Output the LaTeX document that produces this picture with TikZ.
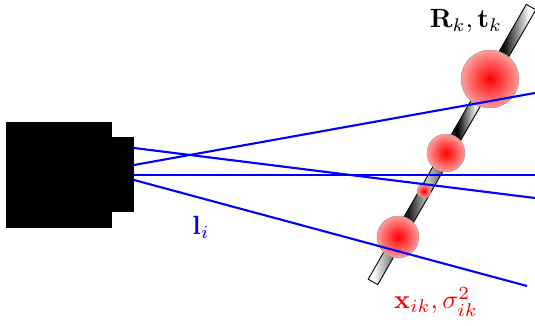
\documentclass[tikz,border=0pt]{standalone}
\usepackage{amsmath,amssymb}
\usetikzlibrary{calc,positioning}
\definecolor{raylineblue}{HTML}{0000FF}
\definecolor{pointred}{HTML}{FF0000}
\definecolor{pointpink}{HTML}{FF9C9C}
\pgfdeclarehorizontalshading{barshade}{100bp}{
  color(0bp)=(white); color(26.5bp)=(white); color(32.9bp)=(black!60);
  color(36.9bp)=(black!90); color(42.6bp)=(black!22); color(45.9bp)=(black!50);
  color(51.5bp)=(black); color(56.9bp)=(black!8); color(65bp)=(black);
  color(73bp)=(white); color(100bp)=(white)}

\begin{document}
\begin{tikzpicture}[
  x=1cm,
  y=1cm,
  campart/.style={draw=none, fill=black, inner sep=0pt, outer sep=0pt},
  pointblob/.style={circle, draw=gray!80, line width=0.25pt, inner sep=0pt,
    inner color=pointred, outer color=pointpink},
  ray/.style={draw=raylineblue, line width=1.2pt},
  mathlabel/.style={scale=1.5, inner sep=0pt}
]
\useasboundingbox (0,0) rectangle (10.7,6.52);

% scan bar
\node[rotate=60.1, minimum width=6.34cm, minimum height=0.22cm, inner sep=0pt,
  draw=black, line width=0.5pt, shading=barshade] (scanbar) at (9.04,3.63) {};

\node[pointblob, minimum size=1.16cm] (pointa) at (9.80,4.94) {};
\node[pointblob, minimum size=0.76cm] (pointb) at (8.92,3.46) {};
\node[pointblob, minimum size=0.28cm] (pointc) at (8.48,2.70) {};
\node[pointblob, minimum size=0.84cm] (pointd) at (7.96,1.78) {};

% camera
\node[campart, minimum size=2.12cm] (cambody) at (1.18,3.02) {};
\node[campart, minimum width=0.44cm, minimum height=1.50cm, right=0pt of cambody] (camlens) {};

\coordinate (rayastart) at (2.68,3.22);
\coordinate (raybstart) at (2.68,3.56);
\coordinate (raydstart) at (2.68,2.92);
\coordinate (rayaend) at (10.70,4.66);
\coordinate (raybend) at (10.70,2.56);
\coordinate (raycend) at (10.70,3.02);
\coordinate (raydend) at (10.54,0.80);

\draw[ray] (rayastart) -- (rayaend);
\draw[ray] (raybstart) -- (raybend);
\draw[ray] (camlens.east) -- (raycend);
\draw[ray] (raydstart) -- (raydend);

\node[mathlabel, text=raylineblue] (raylabel) at (4.02,1.97) {$\mathbf{l}_i$};
\node[mathlabel, text=black] (poselabel) at (9.32,6.09) {$\mathbf{R}_k,\mathbf{t}_k$};
\node[mathlabel, text=pointred] (pointlabel) at (8.72,0.48) {$\mathbf{x}_{ik},\sigma_{ik}^2$};

\end{tikzpicture}
\end{document}
